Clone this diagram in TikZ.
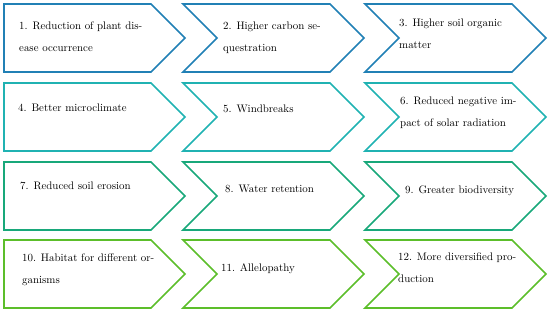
\documentclass[tikz,border=0pt]{standalone}
\usetikzlibrary{shapes.symbols}
\definecolor{rowA}{RGB}{33,128,181}
\definecolor{rowB}{RGB}{32,178,178}
\definecolor{rowC}{RGB}{24,168,122}
\definecolor{rowD}{RGB}{92,190,42}
\begin{document}
\begin{tikzpicture}[x=1pt,y=-1pt,
  chev/.style={signal,signal to=east,signal from=west,minimum width=181pt,minimum height=68pt,
    inner sep=0pt,outer sep=0pt,line width=1.7pt,anchor=north west},
  first/.style={chev,signal from=nowhere},
  lab/.style={font=\fontsize{10.9}{22}\selectfont,align=left,inner sep=0pt,anchor=base west}]
  \useasboundingbox (0,0) rectangle (550,312);
  % rows: top edges and colours
  \foreach \r/\yy/\cc in {1/4/rowA,2/83/rowB,3/162/rowC,4/240/rowD} {
    \node[first,draw=\cc] (c\r1) at (4,\yy) {};
    \node[chev,draw=\cc] (c\r2) at (183,\yy) {};
    \node[chev,draw=\cc] (c\r3) at (365,\yy) {}; }
  % labels: chevron / dx / dy (baseline of last line) / text
  \foreach \c/\dx/\dy/\txt in {
      c11/15/48/{1. Reduction of plant dis-\\ease occurrence},
      c12/40/48/{2. Higher carbon se-\\questration},
      c13/34/45/{3. Higher soil organic\\matter},
      c21/14/29/{4. Better microclimate},
      c22/40/30/{5. Windbreaks},
      c23/35/44/{6. Reduced negative im-\\pact of solar radiation},
      c31/16/28/{7. Reduced soil erosion},
      c32/42/31/{8. Water retention},
      c33/40/32/{9. Greater biodiversity},
      c41/18/44/{10. Habitat for different or-\\ganisms},
      c42/38/32/{11. Allelopathy},
      c43/33/43/{12. More diversified pro-\\duction}}
    \node[lab] (t\c) at ([shift={(\dx,\dy)}]\c.north west) {\txt};
\end{tikzpicture}
\end{document}
